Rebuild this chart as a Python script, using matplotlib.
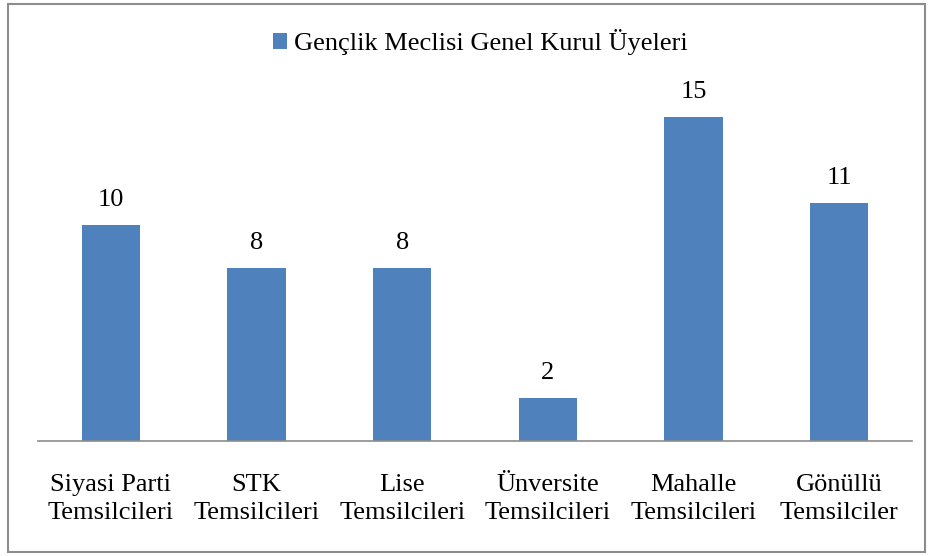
import matplotlib.pyplot as plt
from matplotlib.patches import Rectangle

plt.rcParams['font.family'] = ['Liberation Serif', 'DejaVu Serif']

categories = ["Siyasi Parti\nTemsilcileri", "STK\nTemsilcileri", "Lise\nTemsilcileri",
              "Ünversite\nTemsilcileri", "Mahalle\nTemsilcileri", "Gönüllü\nTemsilciler"]
values = [10, 8, 8, 2, 15, 11]
series_name = "Gençlik Meclisi Genel Kurul Üyeleri"

bar_color = "#4f81bd"

fig = plt.figure(figsize=(9.3, 5.56), dpi=100)
ax = fig.add_axes([38 / 930, (556 - 441) / 556, 874 / 930, (441 - 95) / 556])

x = range(len(categories))
bars = ax.bar(x, values, width=0.4, color=bar_color, label=series_name)
ax.set_xlim(-0.5, len(categories) - 0.5)
ax.set_ylim(0, 16)

for b, v in zip(bars, values):
    ax.annotate(str(v), (b.get_x() + b.get_width() / 2, v), xytext=(0, 10),
                textcoords="offset points", ha="center", va="bottom", fontsize=19)

ax.set_xticks(list(x))
ax.set_xticklabels(categories, fontsize=19, linespacing=1.32)
ax.tick_params(axis="x", length=0, pad=24)
ax.set_yticks([])
for s in ["top", "right", "left"]:
    ax.spines[s].set_visible(False)
ax.spines["bottom"].set_color("#8c8c8c")
ax.spines["bottom"].set_linewidth(1.2)

fig.legend(loc="center", bbox_to_anchor=(480 / 930, 1 - 42 / 556), frameon=False,
           fontsize=19, handlelength=0.55, handleheight=0.55, handletextpad=0.25)

fig.patches.append(Rectangle((8 / 930, 4 / 556), 917 / 930, 548 / 556,
                             transform=fig.transFigure, fill=False,
                             edgecolor="#8c8c8c", linewidth=1.5))

fig.savefig("out.png", dpi=100)
